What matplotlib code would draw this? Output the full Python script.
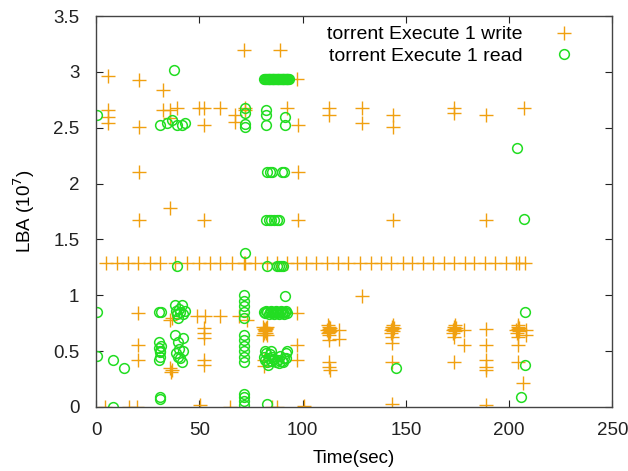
import matplotlib
matplotlib.use('Agg')
import matplotlib.pyplot as plt

plt.rcParams['font.family'] = ['Liberation Sans', 'DejaVu Sans']

# write requests (time in sec, LBA in 1e7)
write_x = [5.7, 20.9, 32.6, 71.5, 89.3, 97.4,
           5.8, 5.8, 5.8, 20.9, 32.6, 36.0, 39.3, 35.9,
           49.6, 52.4, 52.4, 60.2, 67.5, 67.5, 72.3, 72.3, 92.6, 97.9,
           20.9, 97.9, 35.9, 20.9, 52.4, 97.9,
           112.6, 112.6, 128.6, 128.6, 143.7, 143.7, 173.3, 173.3, 188.8, 207.3, 143.7, 188.8,
           # sequential line
           4.9, 10.0, 15.4, 20.5, 25.9, 31.1, 38.3, 44.0, 49.7, 55.0, 60.2, 65.9, 71.5, 72.3,
           77.2, 82.9, 87.7, 92.6, 97.4, 101.5, 106.5, 111.9, 117.1, 122.2, 127.8, 133.0,
           137.9, 143.0, 148.4, 153.2, 158.1, 163.0, 168.6, 173.5, 178.6, 183.2, 188.5,
           193.2, 198.5, 203.4, 205.0, 207.8,
           # lower region
           20.5, 20.5, 20.5, 35.9, 37.0, 35.9, 36.5, 37.0,
           48.9, 52.9, 52.1, 52.1, 52.1, 52.1, 52.1, 60.2, 69.1, 73.0,
           81.0, 81.5, 82.0, 82.5, 83.0, 81.5, 82.5, 83.0, 81.0, 81.8, 82.2,
           97.4, 97.4, 97.4, 81.2, 81.2,
           4.4, 15.7, 19.7, 50.5, 65.0, 85.3, 87.7, 100.5,
           112.8, 112.8, 113.3, 112.3, 112.8, 112.8, 117.6, 117.6, 112.8, 112.8, 113.3,
           113.5, 112.0, 112.5, 113.0,
           143.5, 143.5, 144.0, 143.0, 143.5, 143.5, 143.5, 143.5, 144.3, 142.8, 143.8,
           173.5, 173.5, 174.0, 173.0, 173.5, 178.3, 178.3, 173.5, 174.3, 172.8, 173.8,
           188.8, 188.8, 188.8, 188.8, 188.8, 188.8,
           204.2, 204.2, 204.7, 203.7, 204.2, 204.2, 208.3, 208.3, 204.2, 206.6,
           205.0, 203.5, 204.5,
           128.6]
write_y = [2.96, 2.93, 2.84, 3.20, 3.20, 2.94,
           2.66, 2.60, 2.54, 2.51, 2.66, 2.66, 2.68, 2.59,
           2.68, 2.68, 2.52, 2.68, 2.61, 2.55, 2.68, 2.66, 2.68, 2.52,
           2.10, 2.10, 1.78, 1.67, 1.67, 1.67,
           2.68, 2.61, 2.68, 2.54, 2.61, 2.51, 2.68, 2.63, 2.61, 2.68, 1.67, 1.67,
           1.29, 1.29, 1.29, 1.29, 1.29, 1.29, 1.29, 1.29, 1.29, 1.29, 1.29, 1.29, 1.29, 1.29,
           1.29, 1.29, 1.29, 1.29, 1.29, 1.29, 1.29, 1.29, 1.29, 1.29, 1.29, 1.29,
           1.29, 1.29, 1.29, 1.29, 1.29, 1.29, 1.29, 1.29, 1.29, 1.29, 1.29,
           1.29, 1.29, 1.29, 1.29, 1.29,
           0.84, 0.555, 0.42, 0.78, 0.80, 0.35, 0.31, 0.33,
           0.81, 0.81, 0.71, 0.66, 0.62, 0.42, 0.38, 0.81, 0.81, 0.78,
           0.72, 0.70, 0.68, 0.66, 0.64, 0.66, 0.70, 0.72, 0.64, 0.69, 0.71,
           0.84, 0.555, 0.42, 0.42, 0.37,
           0.0, 0.0, 0.0, 0.02, 0.0, 0.0, 0.0, 0.01,
           0.72, 0.70, 0.68, 0.66, 0.64, 0.60, 0.69, 0.61, 0.405, 0.36, 0.33,
           0.71, 0.69, 0.73, 0.67,
           0.72, 0.70, 0.68, 0.66, 0.63, 0.57, 0.405, 0.03, 0.71, 0.69, 0.73,
           0.72, 0.70, 0.68, 0.66, 0.63, 0.69, 0.555, 0.405, 0.71, 0.69, 0.73,
           0.70, 0.555, 0.42, 0.36, 0.33, 0.02,
           0.72, 0.70, 0.68, 0.66, 0.63, 0.555, 0.69, 0.64, 0.405, 0.21,
           0.71, 0.69, 0.73,
           0.99]

# read requests
read_x = [0.4, 37.9, 31.0, 34.5, 36.9, 39.3, 41.7, 43.2, 72.3, 72.3, 72.3, 72.3,
          82.5, 82.5, 82.5, 91.3, 91.3,
          81.5, 81.9, 82.3, 82.7, 83.1, 83.5, 83.9, 84.3, 84.7, 85.1, 85.5, 85.9, 86.3,
          86.7, 87.1, 87.5, 87.9, 88.3, 88.7, 89.1, 89.5, 89.9, 90.3, 90.7, 91.1, 91.5,
          91.9, 92.3, 92.7, 93.1, 93.5,
          83.0, 84.0, 85.0, 89.8, 90.8,
          82.5, 83.5, 84.5, 86.0, 87.5, 88.5,
          203.9, 207.3,
          39.2, 72.3, 82.9, 87.5, 88.5, 89.5, 90.5,
          0.3, 0.3, 8.4, 13.3, 8.4, 30.3, 31.5, 31.1, 31.1,
          30.3, 30.5, 30.8, 31.1, 30.5, 31.5, 31.0,
          38.3, 38.8, 39.3, 40.0, 40.8, 41.5, 42.2, 43.2, 39.5,
          38.3, 39.5, 40.0, 38.8, 40.5, 41.5, 42.2, 42.0, 39.5,
          71.5, 71.5, 71.5, 71.5, 71.5, 71.5, 71.5, 71.5, 71.5, 71.5, 71.5,
          71.5, 71.5, 71.5, 71.5,
          81.5, 82.0, 82.5, 83.0, 83.5, 84.0, 84.5, 85.0, 85.5, 86.0, 86.5, 87.0, 87.5,
          88.0, 88.5, 89.0, 89.5, 90.0, 90.5, 91.0, 91.5, 92.0, 92.5,
          91.7,
          81.5, 82.0, 82.5, 83.0, 83.5, 84.0, 84.5, 85.0, 86.0, 87.0, 88.0, 89.0, 90.0,
          91.0, 92.0, 92.5, 81.8, 83.2, 84.8, 88.5, 90.5, 92.0,
          82.9,
          145.1, 207.8, 207.8, 205.8]
read_y = [2.61, 3.02, 2.52, 2.54, 2.57, 2.52, 2.52, 2.54, 2.68, 2.63, 2.53, 2.51,
          2.66, 2.61, 2.52, 2.60, 2.52,
          2.94, 2.94, 2.94, 2.94, 2.94, 2.94, 2.94, 2.94, 2.94, 2.94, 2.94, 2.94, 2.94,
          2.94, 2.94, 2.94, 2.94, 2.94, 2.94, 2.94, 2.94, 2.94, 2.94, 2.94, 2.94, 2.94,
          2.94, 2.94, 2.94, 2.94, 2.94,
          2.10, 2.10, 2.10, 2.10, 2.10,
          1.67, 1.67, 1.67, 1.67, 1.67, 1.67,
          2.32, 1.68,
          1.26, 1.38, 1.26, 1.26, 1.26, 1.26, 1.26,
          0.85, 0.455, 0.42, 0.35, 0.0, 0.85, 0.85, 0.09, 0.07,
          0.58, 0.53, 0.49, 0.45, 0.42, 0.55, 0.50,
          0.91, 0.86, 0.83, 0.88, 0.85, 0.91, 0.83, 0.86, 0.80,
          0.64, 0.58, 0.52, 0.48, 0.44, 0.40, 0.62, 0.50, 0.45,
          0.80, 0.85, 0.90, 0.95, 1.00, 0.40, 0.45, 0.50, 0.55, 0.60, 0.64,
          0.02, 0.05, 0.09, 0.12,
          0.85, 0.84, 0.86, 0.85, 0.83, 0.85, 0.86, 0.84, 0.85, 0.83, 0.85, 0.86, 0.84,
          0.85, 0.83, 0.85, 0.86, 0.84, 0.85, 0.83, 0.85, 0.86, 0.84,
          0.99,
          0.45, 0.42, 0.48, 0.40, 0.44, 0.47, 0.41, 0.45, 0.43, 0.40, 0.42, 0.46, 0.41,
          0.44, 0.48, 0.50, 0.50, 0.38, 0.50, 0.39, 0.40, 0.44,
          0.03,
          0.35, 0.85, 0.375, 0.09]

write_color = '#f0a010'
read_color = '#22dd22'

fig = plt.figure(figsize=(6.28, 4.71), dpi=100)
ax = fig.add_axes([0.153, 0.136, 0.822, 0.830])

ax.plot(write_x, write_y, linestyle='none', marker='+', markersize=10, mew=1.0,
        color=write_color, label='torrent Execute 1 write')
ax.plot(read_x, read_y, linestyle='none', marker='o', markersize=7, mew=1.1,
        mfc='none', mec=read_color, label='torrent Execute 1 read')

ax.set_xlim(0, 250)
ax.set_ylim(0, 3.5)
ax.set_xticks([0, 50, 100, 150, 200, 250])
ax.set_yticks([0, 0.5, 1, 1.5, 2, 2.5, 3, 3.5])
ax.set_yticklabels(['0', '0.5', '1', '1.5', '2', '2.5', '3', '3.5'])
ax.tick_params(direction='in', top=True, right=True, length=5, width=0.8,
               labelsize=13.5, colors='#222222')
ax.tick_params(axis='x', pad=11)
ax.tick_params(axis='y', pad=12)
for s in ax.spines.values():
    s.set_color('#444444')
    s.set_linewidth(1.0)

ax.set_xlabel('Time(sec)', fontsize=13.5, labelpad=8)
ax.set_ylabel('LBA (10$^7$)', fontsize=13.5, labelpad=12)

ax.legend(loc='upper right', bbox_to_anchor=(0.969, 1.02), frameon=False,
          markerfirst=False, fontsize=14, handletextpad=1.4, labelspacing=0.22,
          handlelength=1.5, borderpad=0.4)

plt.savefig('out.png', dpi=100)
